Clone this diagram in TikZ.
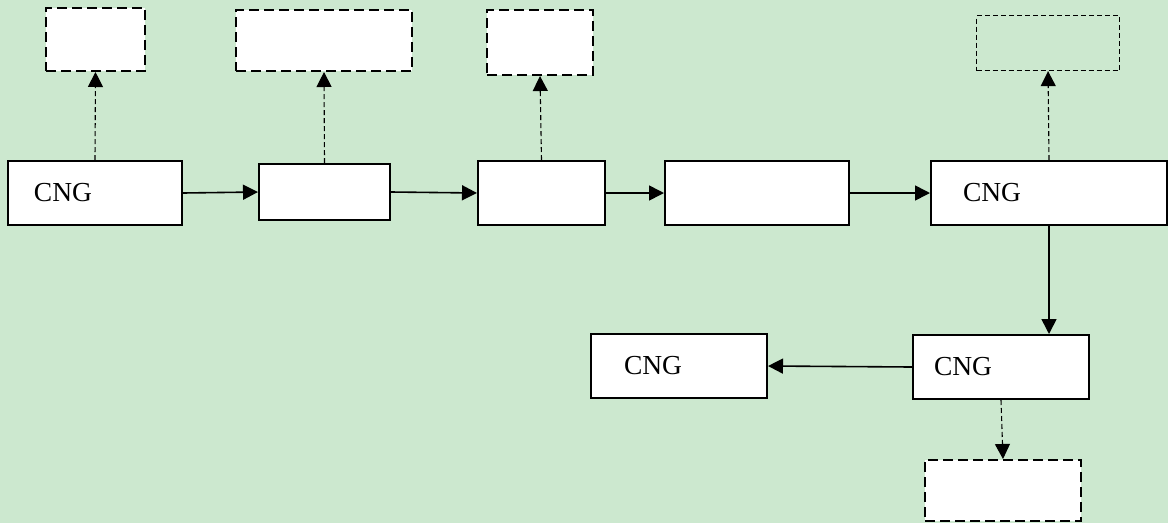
\documentclass[tikz,border=0pt]{standalone}
\usepackage{fontspec}
\setmainfont{Liberation Serif}
\usetikzlibrary{arrows.meta}
\definecolor{bg}{HTML}{CCE8CF}
\tikzset{
  box/.style={draw, fill=white, line width=2pt, inner ysep=0pt, anchor=north west, align=left,
              font=\fontsize{27.5}{31}\selectfont},
  dbox/.style={draw, fill=white, line width=2pt, dash pattern=on 10pt off 5pt, anchor=north west, inner sep=0pt},
  tbox/.style={draw, line width=1.1pt, dash pattern=on 5pt off 3pt, anchor=north west, inner sep=0pt},
  arr/.style={line width=1.6pt, -{Triangle[length=15pt,width=15pt]}},
  darr/.style={line width=1.1pt, dash pattern=on 5pt off 3pt, -{Triangle[length=15pt,width=15pt]}}
}
\begin{document}
\begin{tikzpicture}[x=1pt,y=-1pt]
\fill[bg] (0,0) rectangle (1168,523);
\useasboundingbox (0,0) rectangle (1168,523);
% main row
\node[box, minimum height=64pt, inner xsep=26pt, text width=122pt] (A) at (7,160) {CNG};
\node[box, minimum height=56pt, minimum width=131pt, inner xsep=0pt] (B) at (258,163) {};
\node[box, minimum height=64pt, minimum width=127pt, inner xsep=0pt] (C) at (477,160) {};
\node[box, minimum height=64pt, minimum width=184pt, inner xsep=0pt] (D) at (664,160) {};
\node[box, minimum height=64pt, inner xsep=32pt, text width=172pt] (E) at (930,160) {CNG};
% lower row
\node[box, minimum height=64pt, inner xsep=21pt, text width=134pt] (F) at (912,334) {CNG};
\node[box, minimum height=64pt, inner xsep=33pt, text width=110pt] (G) at (590,333) {CNG};
% dashed boxes
\node[dbox, minimum width=99pt, minimum height=63pt] (T1) at (45,7) {};
\node[dbox, minimum width=176pt, minimum height=61pt] (T2) at (235,9) {};
\node[dbox, minimum width=106pt, minimum height=65pt] (T3) at (486,9) {};
\node[tbox, minimum width=143pt, minimum height=55pt] (T5) at (976,15) {};
\node[dbox, minimum width=156pt, minimum height=61pt] (H) at (924,459) {};
% solid connectors
\draw[arr] (A.east) -- (B.west);
\draw[arr] (B.east) -- (C.west);
\draw[arr] (C.east) -- (D.west);
\draw[arr] (D.east) -- (E.west);
\draw[arr] (E.south) -- (E.south |- F.north);
\draw[arr] (F.west) -- (G.east);
% dashed connectors
\draw[darr] (A.north) -- (T1.south);
\draw[darr] (B.north) -- (T2.south);
\draw[darr] (C.north) -- (T3.south);
\draw[darr] (E.north) -- (T5.south);
\draw[darr] (F.south) -- (H.north);
\end{tikzpicture}
\end{document}
